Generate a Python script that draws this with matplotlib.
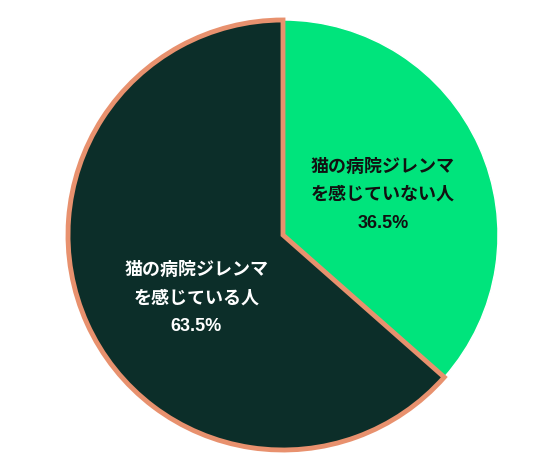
import numpy as np
import matplotlib
matplotlib.use("Agg")
import matplotlib.pyplot as plt

labels = ["猫の病院ジレンマ\nを感じていない人", "猫の病院ジレンマ\nを感じている人"]
values = [36.5, 63.5]
colors = ["#00E47C", "#0C2E29"]
text_colors = ["#111111", "#FFFFFF"]
label_dist = [0.5, 0.5]
label_turn = [-2.5, 12]

plt.rcParams['font.family'] = ['Liberation Sans', 'Noto Sans CJK JP', 'DejaVu Sans']

fig = plt.figure(figsize=(5.43, 4.65), dpi=100)
ax = fig.add_axes([0, 0, 1, 1])

cx, cy, r = 283, 230, 215
wedges, _ = ax.pie(values, colors=colors, startangle=90, counterclock=False,
                   center=(cx, cy), radius=r, frame=True,
                   wedgeprops=dict(linewidth=1, edgecolor="white"))
ax.set_xlim(0, 543)
ax.set_ylim(0, 465)
ax.set_aspect("equal")
ax.axis("off")

# salmon outline on the dark slice
wedges[1].set_edgecolor("#E8916E")
wedges[1].set_linewidth(3.5)
wedges[1].set_zorder(3)

for w, lab, v, tc, d, t in zip(wedges, labels, values, text_colors, label_dist, label_turn):
    ang = np.deg2rad((w.theta1 + w.theta2) / 2 + t)
    x = cx + d * r * np.cos(ang)
    y = cy + d * r * np.sin(ang)
    ax.text(x, y, f"{lab}\n{v}%", ha="center", va="center", color=tc,
            fontsize=13, fontweight="bold", linespacing=1.85, zorder=5)

fig.savefig("out.png", dpi=100)
